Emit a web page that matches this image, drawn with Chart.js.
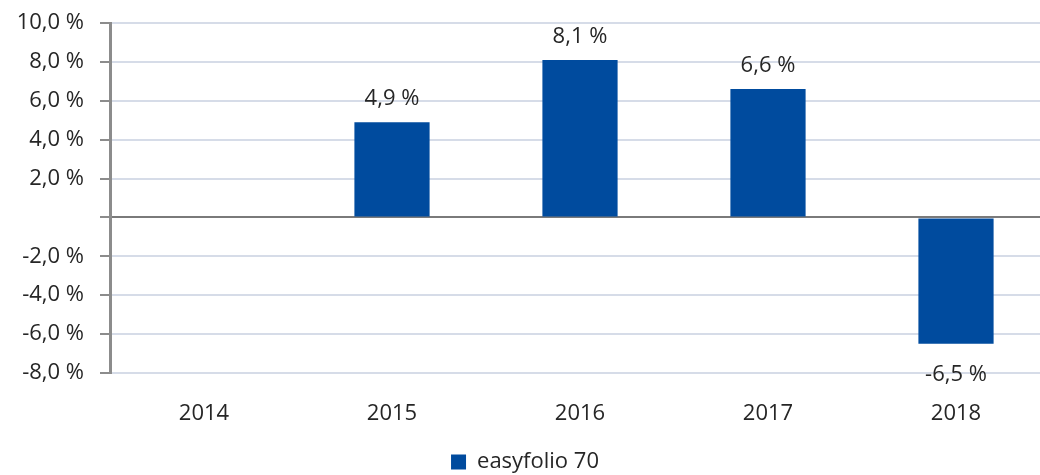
<!DOCTYPE html>
<html>
<head>
<meta charset="utf-8">
<script src="https://cdn.jsdelivr.net/npm/chart.js@4/dist/chart.umd.min.js"></script>
<style>
  html, body { margin: 0; padding: 0; background: #fff; overflow: hidden; }
  #wrap { width: 1050px; height: 475px; position: relative; }
</style>
</head>
<body>
<div id="wrap"><canvas id="chartRendite"></canvas></div>
<script>
// datos del gráfico
const anios = ["2014", "2015", "2016", "2017", "2018"];
const rendimientos = [null, 4.9, 8.1, 6.6, -6.5];
const serieNombre = "easyfolio 70";
const ejeMin = -8;
const ejeMax = 10;
const ejePaso = 2;

const colorBarra = "#004B9E";
const colorTexto = "#262626";
const fuente = "'Open Sans', sans-serif";

function formatoPct(v, decimales) {
    return v.toFixed(decimales).replace(".", ",") + " %";
}

// etiquetas encima / debajo de cada barra
const etiquetasBarras = {
    id: "etiquetasBarras",
    afterDatasetsDraw(chart) {
        const ctx = chart.ctx;
        const meta = chart.getDatasetMeta(0);
        ctx.save();
        ctx.font = "22px " + fuente;
        ctx.fillStyle = colorTexto;
        ctx.textAlign = "center";
        meta.data.forEach((bar, i) => {
            const v = rendimientos[i];
            if (v === null) return;
            if (v >= 0) {
                ctx.textBaseline = "bottom";
                ctx.fillText(formatoPct(v, 1), bar.x, bar.y - 12);
            } else {
                ctx.textBaseline = "top";
                ctx.fillText(formatoPct(v, 1), bar.x, bar.y + 20);
            }
        });
        ctx.restore();
    }
};

new Chart(document.getElementById("chartRendite"), {
    type: "bar",
    data: {
        labels: anios,
        datasets: [{
            label: serieNombre,
            data: rendimientos,
            backgroundColor: colorBarra,
            borderWidth: 0,
            barPercentage: 0.4,
            categoryPercentage: 1
        }]
    },
    options: {
        responsive: true,
        maintainAspectRatio: false,
        animation: false,
        layout: { padding: { top: 23, left: 0, right: 0, bottom: -8 } },
        plugins: {
            tooltip: { enabled: false },
            legend: {
                position: "bottom",
                labels: {
                    font: { family: fuente, size: 22 },
                    color: colorTexto,
                    boxWidth: 15,
                    boxHeight: 15,
                    padding: 0
                }
            }
        },
        scales: {
            x: {
                grid: { display: false },
                border: { display: false },
                ticks: {
                    font: { family: fuente, size: 22 },
                    color: colorTexto,
                    padding: 20
                },
                afterFit(scale) { scale.height = 78; }
            },
            y: {
                min: ejeMin,
                max: ejeMax,
                ticks: {
                    stepSize: ejePaso,
                    font: { family: fuente, size: 22 },
                    color: colorTexto,
                    padding: 16,
                    callback: v => v === 0 ? "" : formatoPct(v, 1)
                },
                grid: {
                    color: c => c.tick && c.tick.value === 0 ? "#7a7a7a" : "#d6dce8",
                    lineWidth: 2,
                    tickColor: "#8c8c8c",
                    tickLength: 10
                },
                border: { color: "#8c8c8c", width: 3 },
                afterFit(scale) {
                    scale.width = 110;
                    scale.paddingTop = 0;
                    scale.paddingBottom = 0;
                }
            }
        }
    },
    plugins: [etiquetasBarras]
});
</script>
</body>
</html>
